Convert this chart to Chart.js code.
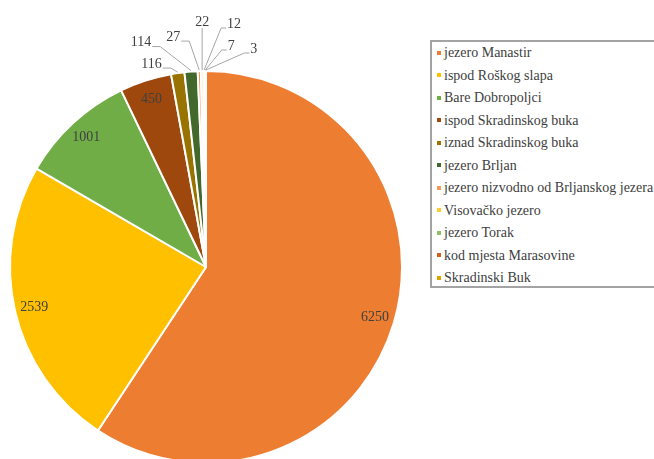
<!doctype html>
<html>
	<head>
		<meta charset="UTF-8" />
		<script src="https://cdn.jsdelivr.net/npm/chart.js"></script>
		<style type="text/css">
			body{margin:0;background:#fff;}
			.page{position:relative;width:654px;height:459px;overflow:hidden;}
			.chartBox{position:absolute;left:0;top:0;width:420px;height:470px;}
			#legendBox{position:absolute;left:430px;top:40px;width:240px;height:244px;border:2px solid #a3a3a3;margin:0;padding:0;list-style:none;color:#404040;}
			#legendBox li{height:22.5px;line-height:22.5px;white-space:nowrap;font-family:'Liberation Serif', 'Times New Roman', serif;font-size:14px;}
			#legendBox span{display:inline-block;width:4px;height:4px;margin:0 3px 0 5px;vertical-align:middle;position:relative;top:-1px;}
		</style>
	</head>
	<body>
		<div class="page">
			<div class="chartBox"><canvas id="pieChart"></canvas></div>
			<ul id="legendBox"></ul>
		</div>
		<script>
			// data
			const labels = ['jezero Manastir', 'ispod Roškog slapa', 'Bare Dobropoljci', 'ispod Skradinskog buka',
				'iznad Skradinskog buka', 'jezero Brljan', 'jezero nizvodno od Brljanskog jezera', 'Visovačko jezero',
				'jezero Torak', 'kod mjesta Marasovine', 'Skradinski Buk'];
			const counts = [6250, 2539, 1001, 450, 116, 114, 27, 22, 12, 7, 3];

			// styles
			const colors = ['#ED7D31', '#FFC000', '#70AD47', '#9E480E', '#997300', '#43682B',
				'#F1975A', '#FFCD33', '#8CC168', '#D2601A', '#DBA400'];
			// label offsets from the slice edge for the small slices (callouts)
			const calloutOffsets = {4: [-26, -8], 5: [-50, -28], 6: [-26, -33], 7: [0, -48], 8: [30, -46], 9: [26, -24], 10: [48, -21]};

			const sliceLabels = {
				id: 'sliceLabels',
				afterDatasetsDraw(chart) {
					const ctx = chart.ctx;
					const arcs = chart.getDatasetMeta(0).data;
					ctx.save();
					ctx.font = '14px "Liberation Serif", "Times New Roman", serif';
					ctx.fillStyle = '#404040';
					ctx.textAlign = 'center';
					ctx.textBaseline = 'middle';
					arcs.forEach(function(arc, i) {
						const p = arc.getProps(['x', 'y', 'startAngle', 'endAngle', 'outerRadius'], true);
						const mid = (p.startAngle + p.endAngle) / 2;
						const text = String(counts[i]);
						const off = calloutOffsets[i];
						if (!off) {
							const r = p.outerRadius * 0.9;
							ctx.fillText(text, p.x + Math.cos(mid) * r, p.y + Math.sin(mid) * r);
							return;
						}
						const ax = p.x + Math.cos(mid) * (p.outerRadius + 1);
						const ay = p.y + Math.sin(mid) * (p.outerRadius + 1);
						const lx = ax + off[0];
						const ly = ay + off[1];
						const w = ctx.measureText(text).width;
						ctx.strokeStyle = '#A6A6A6';
						ctx.lineWidth = 1;
						ctx.beginPath();
						ctx.moveTo(ax, ay);
						if (off[0] < 0) {
							const ex = lx + w / 2 + 1;
							ctx.lineTo(ex + 8, ly + 4);
							ctx.lineTo(ex, ly + 4);
						} else if (off[0] > 0) {
							const ex = lx - w / 2 - 1;
							ctx.lineTo(ex - 5, ly + 4);
							ctx.lineTo(ex, ly + 4);
						} else {
							ctx.lineTo(lx, ly + 6);
						}
						ctx.stroke();
						ctx.fillText(text, lx, ly);
					});
					ctx.restore();
				}
			};

			const data = {
				labels: labels,
				datasets: [{
					data: counts,
					backgroundColor: colors,
					borderColor: '#ffffff',
					borderWidth: 2
				}]
			};
			const config = {
				type: 'pie',
				data,
				options: {
					responsive: true,
					maintainAspectRatio: false,
					animation: false,
					layout: {padding: {left: 9, right: 17, top: 70, bottom: 6}},
					plugins: {
						legend: {display: false},
						tooltip: {enabled: false}
					}
				},
				plugins: [sliceLabels]
			};
			const pieChart = new Chart(document.getElementById('pieChart'), config);

			// legend as html list
			const legendBox = document.getElementById('legendBox');
			labels.forEach(function(name, i) {
				const li = document.createElement('li');
				const mark = document.createElement('span');
				mark.style.background = colors[i];
				li.appendChild(mark);
				li.appendChild(document.createTextNode(name));
				legendBox.appendChild(li);
			});
		</script>
	</body>
</html>
